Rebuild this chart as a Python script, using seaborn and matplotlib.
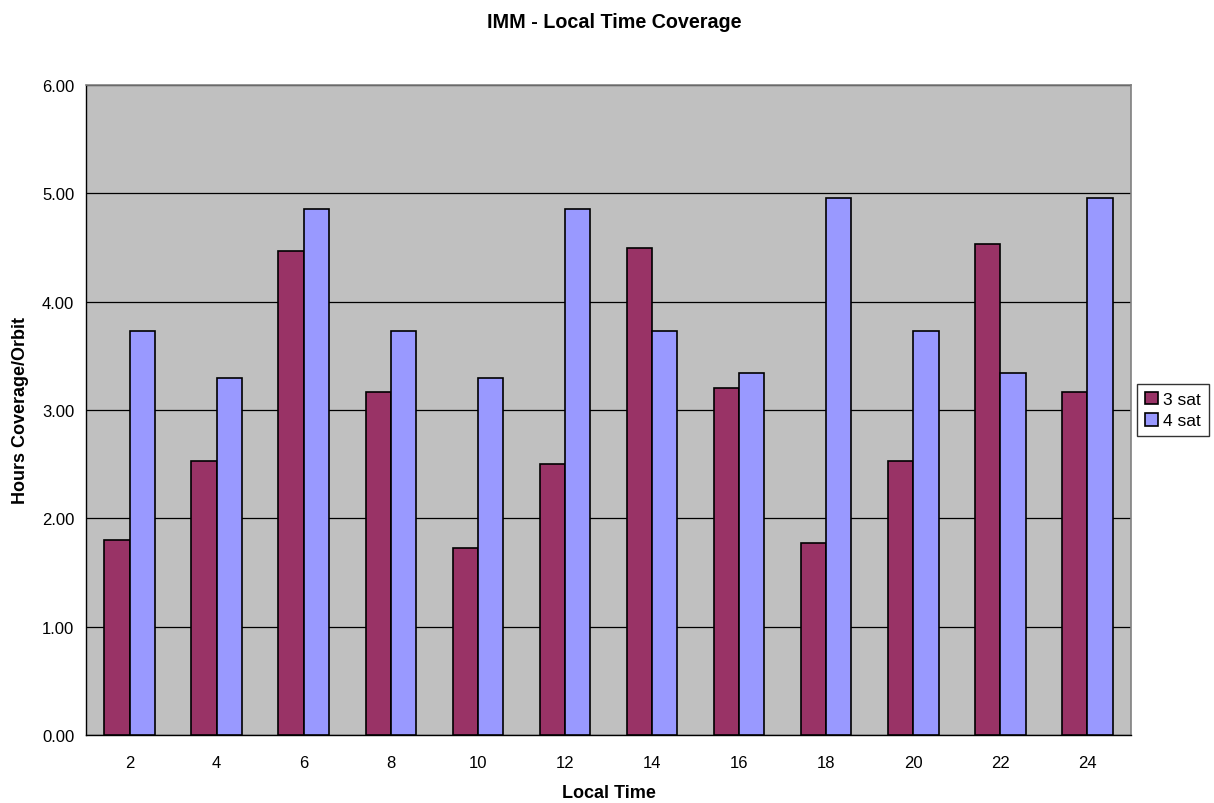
import matplotlib
matplotlib.use("Agg")
import matplotlib.pyplot as plt
import seaborn as sns
import pandas as pd
import numpy as np

local_time = ["2", "4", "6", "8", "10", "12", "14", "16", "18", "20", "22", "24"]
sat3 = [1.80, 2.53, 4.47, 3.17, 1.73, 2.50, 4.50, 3.20, 1.77, 2.53, 4.53, 3.17]
sat4 = [3.73, 3.30, 4.86, 3.73, 3.30, 4.86, 3.73, 3.34, 4.96, 3.73, 3.34, 4.96]
series_names = ["3 sat", "4 sat"]
colors = ["#993366", "#9999FF"]

df = pd.DataFrame({
    "Local Time": local_time * 2,
    "value": sat3 + sat4,
    "series": [series_names[0]] * len(sat3) + [series_names[1]] * len(sat4),
})

sns.set_style("white")
plt.rcParams["font.family"] = ["Liberation Sans", "DejaVu Sans"]
plt.rcParams["text.color"] = "black"
plt.rcParams["axes.labelcolor"] = "black"
plt.rcParams["xtick.color"] = "black"
plt.rcParams["ytick.color"] = "black"

fig = plt.figure(figsize=(12.14, 8.04), dpi=100)
ax = fig.add_axes([86 / 1214, 1 - 736 / 804, (1131 - 86) / 1214, (736 - 86) / 804])
ax.set_facecolor("#C0C0C0")

sns.barplot(data=df, x="Local Time", y="value", hue="series", order=local_time,
            hue_order=series_names, palette=colors, width=0.58, ax=ax,
            edgecolor="black", linewidth=1.2, saturation=1, legend=True, zorder=3)

ax.set_ylim(0, 6)
ax.set_xlim(-0.5, len(local_time) - 0.5)
ax.set_yticks(np.arange(0, 6.01, 1))
ax.set_yticklabels([f"{v:.2f}" for v in np.arange(0, 6.01, 1)], fontsize=12)
ax.yaxis.grid(True, color="black", linewidth=0.9, zorder=0)
ax.set_axisbelow(True)

ax.tick_params(axis="x", which="major", length=0, labelsize=12, pad=14.5)
ax.set_xticks(np.arange(-0.5, len(local_time), 1), minor=True)
ax.tick_params(axis="x", which="minor", length=5, color="black", direction="out")
ax.tick_params(axis="y", which="major", length=5, color="black", direction="out", labelsize=12)

for side in ["top", "right"]:
    ax.spines[side].set_color("#808080")
    ax.spines[side].set_linewidth(1.2)
for side in ["left", "bottom"]:
    ax.spines[side].set_color("black")
    ax.spines[side].set_linewidth(1.0)

ax.set_xlabel("Local Time", fontsize=13, fontweight="bold", labelpad=10)
ax.set_ylabel("Hours Coverage/Orbit", fontsize=13, fontweight="bold", labelpad=9)
fig.suptitle("IMM - Local Time Coverage", fontsize=14.2, fontweight="bold", x=0.506, y=0.984)

leg = ax.legend(loc="center left", bbox_to_anchor=(1.006, 0.5), frameon=True,
                fontsize=12.5, handlelength=0.75, handleheight=0.75, handletextpad=0.3,
                borderpad=0.45, labelspacing=0.35, borderaxespad=0, fancybox=False)
leg.get_frame().set_edgecolor("black")
leg.get_frame().set_linewidth(1.0)

fig.savefig("out.png", dpi=100, facecolor="white")
